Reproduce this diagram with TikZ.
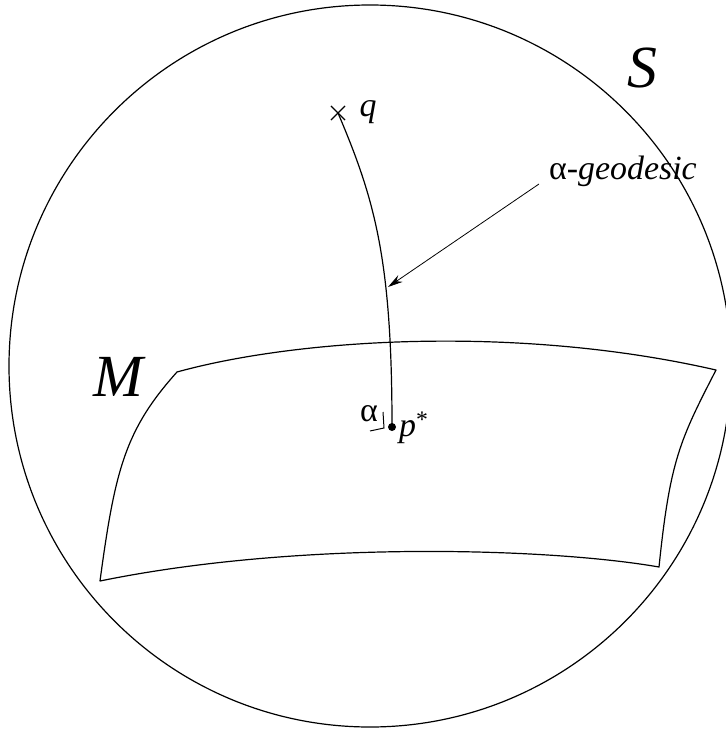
\documentclass[tikz,border=0pt]{standalone}
\usepackage{fontspec}
\setmainfont{Liberation Serif}
\usetikzlibrary{arrows.meta,shapes.misc}
\tikzset{
  outline/.style={line width=1.2bp, line join=round},
  lbl/.style={inner sep=0pt, font=\fontsize{34}{36}\selectfont},
  biglbl/.style={inner sep=0pt, font=\fontsize{60}{62}\selectfont\itshape},
  thinarrow/.style={line width=0.8bp, -{Stealth[length=15bp,width=8bp]}},
}
\begin{document}
\begin{tikzpicture}[x=1bp,y=-1bp]
\useasboundingbox (0,0) rectangle (726,731);
\clip (0,0) rectangle (726,731);
% sphere S
\draw[outline] (370,366) circle[radius=361];
% surface M
\coordinate (c1) at (177,372);
\coordinate (c2) at (716,370);
\coordinate (c3) at (659,567);
\coordinate (c4) at (100,581);
\draw[outline] (c1) .. controls (300,338) and (520,325) .. (c2)
  .. controls (680,440) and (670,460) .. (c3)
  .. controls (550,548) and (300,540) .. (c4)
  .. controls (115,470) and (125,430) .. (c1) -- cycle;
% points
\node[cross out, draw, line width=1.1bp, minimum size=13bp, inner sep=0pt] (q) at (338,113) {};
\node[circle, fill, inner sep=0pt, minimum size=8bp] (pstar) at (392,427) {};
% geodesic
\draw[outline] (q.center) .. controls (375,200) and (392,260) .. (pstar.center);
% arrow
\coordinate (atail) at (539,184);
\coordinate (atip) at (388,287);
\draw[thinarrow] (atail) -- (atip);
% right-angle mark
\coordinate (r1) at (370,431);
\coordinate (r2) at (384,428);
\coordinate (r3) at (383,412);
\draw[line width=1bp] (r1) -- (r2) -- (r3);
% labels
\node[biglbl, anchor=base] (S) at (642,88) {S};
\node[biglbl, anchor=base] (M) at (118,396) {M};
\node[lbl, anchor=base] (ql) at (368,117) {\itshape q};
\node[lbl, anchor=base west] (geo) at (549,179) {α-\textit{geodesic}};
\node[lbl, anchor=base] (al) at (369,421) {α};
\node[lbl, anchor=base west] (pl) at (399,436) {\textit{p}\textsuperscript{*}};
\end{tikzpicture}
\end{document}
